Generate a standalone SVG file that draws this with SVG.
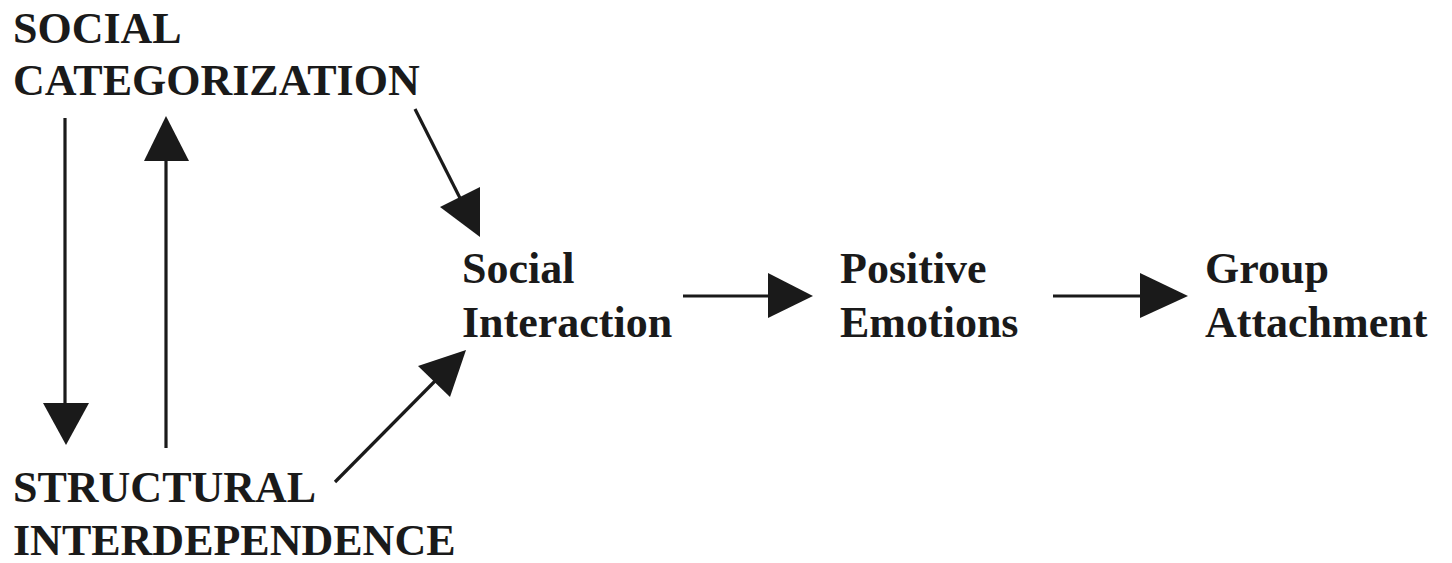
<svg xmlns="http://www.w3.org/2000/svg" width="1452" height="563" viewBox="0 0 1452 563">
<style>
.t{font-family:"Liberation Serif","Times New Roman",serif;font-weight:bold;font-size:44px;fill:#1a1a1a}
.ln{stroke:#1a1a1a;stroke-width:3.2;fill:none}
.hd{fill:#1a1a1a;stroke:none}
</style>
<rect width="1452" height="563" fill="#ffffff"/>
<g id="node-social-categorization">
<text class="t" x="13" y="43">SOCIAL</text>
<text class="t" x="13" y="95">CATEGORIZATION</text>
</g>
<g id="node-structural-interdependence">
<text class="t" x="13" y="502">STRUCTURAL</text>
<text class="t" x="13" y="555">INTERDEPENDENCE</text>
</g>
<g id="node-social-interaction">
<text class="t" x="462" y="283">Social</text>
<text class="t" x="462" y="337">Interaction</text>
</g>
<g id="node-positive-emotions">
<text class="t" x="840" y="283">Positive</text>
<text class="t" x="840" y="337">Emotions</text>
</g>
<g id="node-group-attachment">
<text class="t" x="1205" y="283">Group</text>
<text class="t" x="1205" y="337">Attachment</text>
</g>
<g id="connectors">
<line class="ln" x1="65" y1="118" x2="65" y2="420"/>
<polygon class="hd" points="43,403 89,403 66,445"/>
<line class="ln" x1="166" y1="448" x2="166" y2="158"/>
<polygon class="hd" points="144,161 189,161 166,116"/>
<line class="ln" x1="415" y1="109" x2="462" y2="202"/>
<polygon class="hd" points="440,207 480,187 480,237"/>
<line class="ln" x1="335" y1="482" x2="440" y2="376"/>
<polygon class="hd" points="450,397 418,366 466,350"/>
<line class="ln" x1="683" y1="296" x2="775" y2="296"/>
<polygon class="hd" points="768,273 768,318 813,296"/>
<line class="ln" x1="1053" y1="296" x2="1145" y2="296"/>
<polygon class="hd" points="1140,273 1140,318 1188,296"/>
</g>
</svg>
